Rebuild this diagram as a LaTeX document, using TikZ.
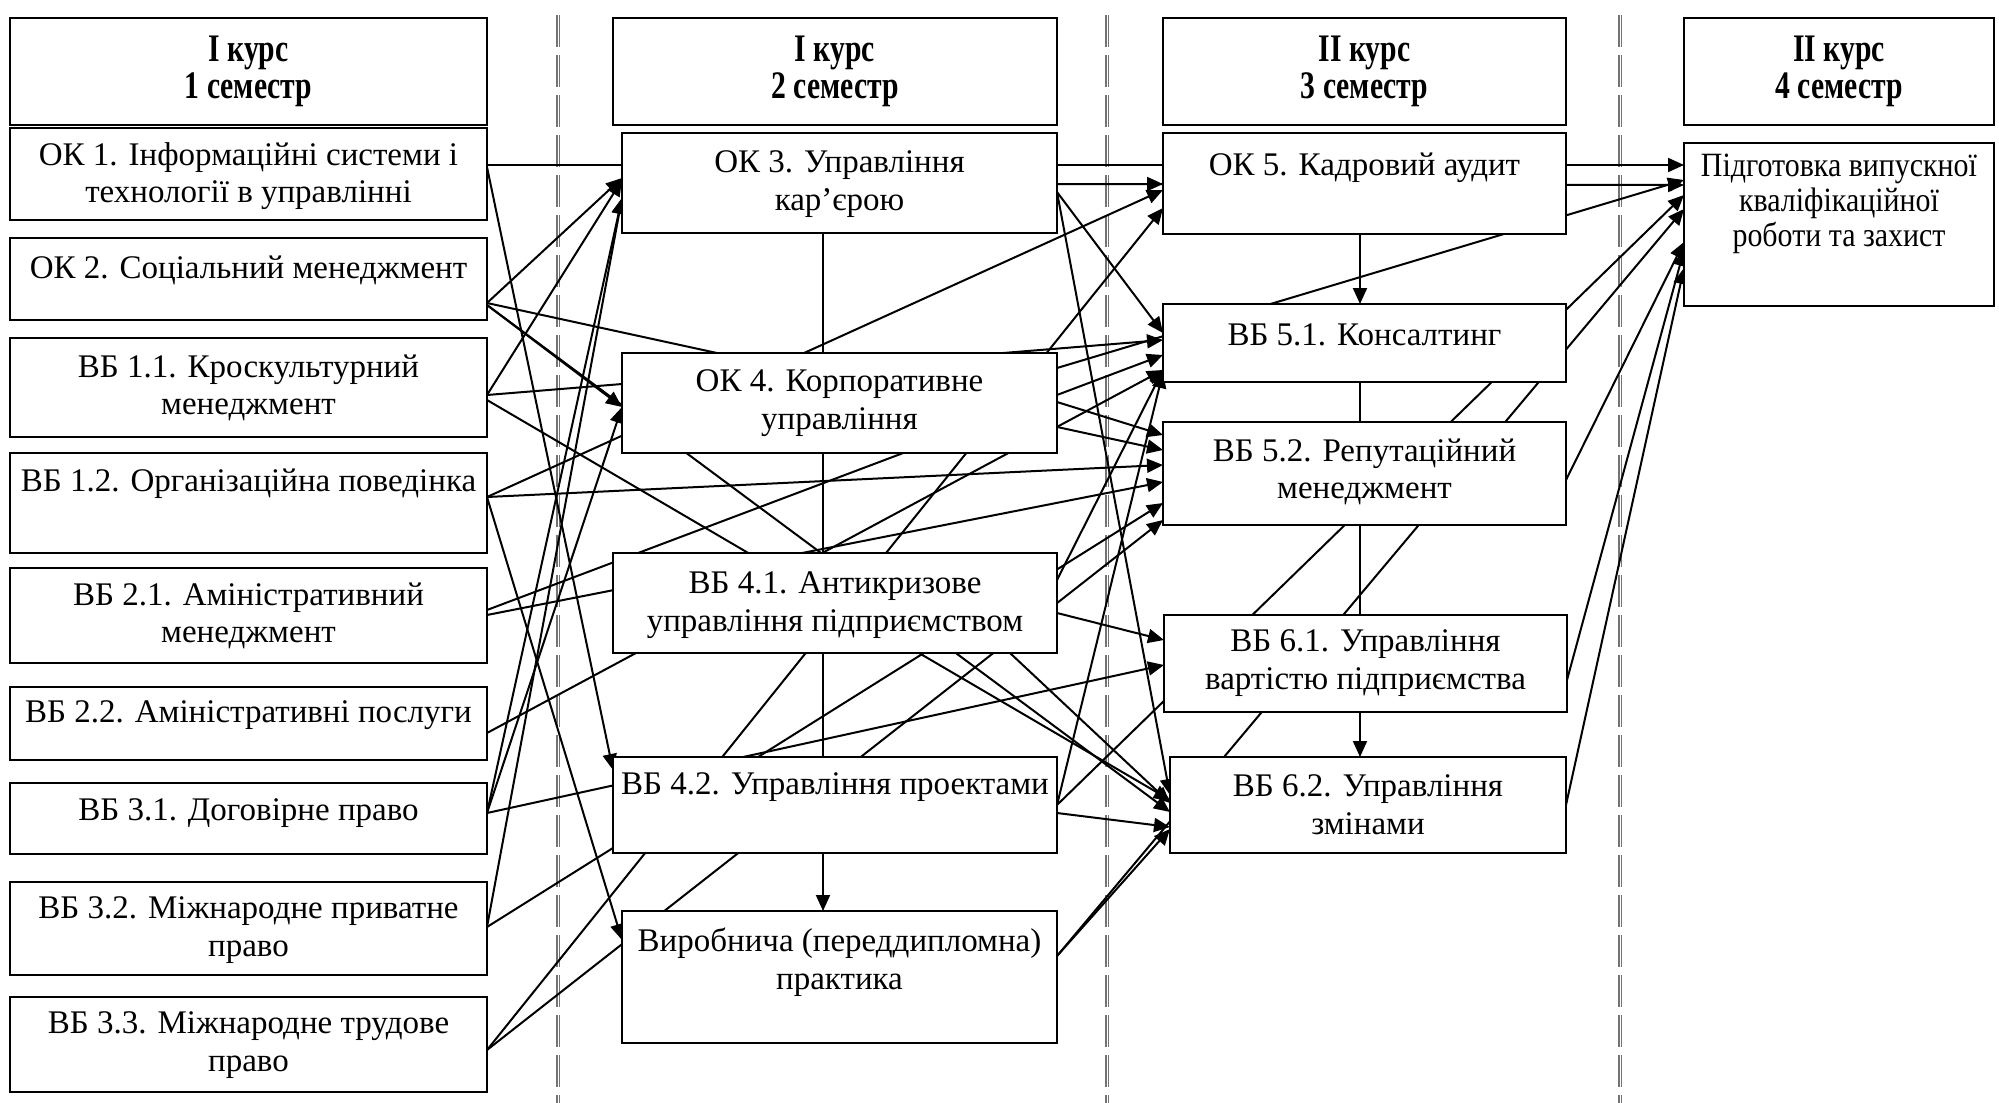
\documentclass[tikz,border=0pt]{standalone}
\usepackage{fontspec}
\setmainfont{Liberation Serif}
\newfontfamily\hdrfont{Liberation Serif}[FakeStretch=0.76]
\newfontfamily\finfont{Liberation Serif}[FakeStretch=0.88]
\usetikzlibrary{arrows.meta,fit}
\pgfdeclarelayer{bg}
\pgfsetlayers{bg,main}
\begin{document}
\begin{tikzpicture}[x=0.5pt,y=-0.5pt,
 box/.style={draw,line width=1.1pt,fill=white,inner sep=0pt,outer sep=0pt},
 txt/.style={align=center,inner sep=0pt,font=\fontsize{16.5}{18.8}\selectfont},
 hdr/.style={align=center,inner sep=0pt,font=\hdrfont\bfseries\fontsize{19.5}{18.5}\selectfont},
 fintxt/.style={align=center,inner sep=0pt,font=\finfont\fontsize{17}{17.5}\selectfont},
 con/.style={line width=1pt},
 arr/.style={con,-{Triangle[length=8pt,width=7pt]}},
 sep/.style={draw=black!55,line width=0.6pt,double=white,double distance=0.4pt,dash pattern=on 16pt off 4pt}]
\useasboundingbox (0,0) rectangle (1999,1103);
% column 1
\node[box,fit={(10,18)(487,125)}] (h1) {};
\node[hdr] (h1t) at (248.5,71) {I курс\\1 семестр};
\node[box,fit={(10,128)(487,220)}] (ok1) {};
\node[txt] (ok1t) at (248.5,176) {ОК 1. Інформаційні системи і\\технології в управлінні};
\node[box,fit={(10,238)(487,320)}] (ok2) {};
\node[txt] (ok2t) at (248.5,270) {ОК 2. Соціальний менеджмент};
\node[box,fit={(10,338)(487,437)}] (vb11) {};
\node[txt] (vb11t) at (248.5,388) {ВБ 1.1. Кроскультурний\\менеджмент};
\node[box,fit={(10,453)(487,553)}] (vb12) {};
\node[txt] (vb12t) at (248.5,484) {ВБ 1.2. Організаційна поведінка};
\node[box,fit={(10,568)(487,663)}] (vb21) {};
\node[txt] (vb21t) at (248.5,616) {ВБ 2.1. Аміністративний\\менеджмент};
\node[box,fit={(10,687)(487,760)}] (vb22) {};
\node[txt] (vb22t) at (248.5,715) {ВБ 2.2. Аміністративні послуги};
\node[box,fit={(10,783)(487,854)}] (vb31) {};
\node[txt] (vb31t) at (248.5,813) {ВБ 3.1. Договірне право};
\node[box,fit={(10,882)(487,975)}] (vb32) {};
\node[txt] (vb32t) at (248.5,930) {ВБ 3.2. Міжнародне приватне\\право};
\node[box,fit={(10,997)(487,1092)}] (vb33) {};
\node[txt] (vb33t) at (248.5,1045) {ВБ 3.3. Міжнародне трудове\\право};
% column 2
\node[box,fit={(613,18)(1057,125)}] (h2) {};
\node[hdr] (h2t) at (835,71) {I курс\\2 семестр};
\node[box,fit={(622,133)(1057,233)}] (ok3) {};
\node[txt] (ok3t) at (839.5,184) {ОК 3. Управління\\кар’єрою};
\node[box,fit={(622,353)(1057,453)}] (ok4) {};
\node[txt] (ok4t) at (839.5,403) {ОК 4. Корпоративне\\управління};
\node[box,fit={(613,553)(1057,653)}] (vb41) {};
\node[txt] (vb41t) at (835,605) {ВБ 4.1. Антикризове\\управління підприємством};
\node[box,fit={(613,757)(1057,853)}] (vb42) {};
\node[txt] (vb42t) at (835,787) {ВБ 4.2. Управління проектами};
\node[box,fit={(622,911)(1057,1043)}] (prac) {};
\node[txt] (pract) at (839.5,962) {Виробнича (переддипломна)\\практика};
% column 3
\node[box,fit={(1163,18)(1566,125)}] (h3) {};
\node[hdr] (h3t) at (1364.5,71) {II курс\\3 семестр};
\node[box,fit={(1163,133)(1566,234)}] (ok5) {};
\node[txt] (ok5t) at (1364.5,168) {ОК 5. Кадровий аудит};
\node[box,fit={(1163,304)(1566,382)}] (vb51) {};
\node[txt] (vb51t) at (1364.5,335) {ВБ 5.1. Консалтинг};
\node[box,fit={(1163,422)(1566,525)}] (vb52) {};
\node[txt] (vb52t) at (1364.5,472) {ВБ 5.2. Репутаційний\\менеджмент};
\node[box,fit={(1164,615)(1567,712)}] (vb61) {};
\node[txt] (vb61t) at (1365.5,663) {ВБ 6.1. Управління\\вартістю підприємства};
\node[box,fit={(1170,757)(1566,853)}] (vb62) {};
\node[txt] (vb62t) at (1368,805) {ВБ 6.2. Управління\\змінами};
% column 4
\node[box,fit={(1684,18)(1994,125)}] (h4) {};
\node[hdr] (h4t) at (1839,71) {II курс\\4 семестр};
\node[box,fit={(1684,143)(1994,306)}] (fin) {};
\node[fintxt] (fint) at (1839,204) {Підготовка випускної\\кваліфікаційної\\роботи та захист};
\begin{pgfonlayer}{bg}
\draw[sep] (558,15) -- (558,1103);
\draw[sep] (1107,15) -- (1107,1103);
\draw[sep] (1620,15) -- (1620,1103);
% vertical chains
\draw[con] (823,0 |- ok3.south) -- (823,0 |- ok4.north);
\draw[con] (823,0 |- ok4.south) -- (823,0 |- vb41.north);
\draw[con] (823,0 |- vb41.south) -- (823,0 |- vb42.north);
\draw[arr] (823,0 |- vb42.south) -- (823,0 |- prac.north);
\draw[arr] (1360,0 |- ok5.south) -- (1360,0 |- vb51.north);
\draw[con] (1360,0 |- vb51.south) -- (1360,0 |- vb52.north);
\draw[con] (1360,0 |- vb52.south) -- (1360,0 |- vb61.north);
\draw[arr] (1360,0 |- vb61.south) -- (1360,0 |- vb62.north);
% column 1 sources
\draw[arr] (ok1.east |- 0,165) -- (fin.west |- 0,165);
\draw[arr] (ok1.east |- 0,167) -- (vb42.west |- 0,770);
\draw[arr] (ok2.east |- 0,303) -- (ok3.west |- 0,178);
\draw[arr] (ok2.east |- 0,305) -- (ok4.west |- 0,407);
\draw[arr] (ok2.east |- 0,305) -- (vb62.west |- 0,812);
\draw[arr] (ok2.east |- 0,303) -- (vb52.west |- 0,450);
\draw[arr] (vb11.east |- 0,395) -- (ok3.west |- 0,180);
\draw[arr] (vb11.east |- 0,395) -- (vb51.west |- 0,340);
\draw[arr] (vb11.east |- 0,400) -- (vb62.west |- 0,800);
\draw[arr] (vb12.east |- 0,497) -- (ok5.west |- 0,190);
\draw[arr] (vb12.east |- 0,497) -- (vb52.west |- 0,465);
\draw[arr] (vb12.east |- 0,497) -- (prac.west |- 0,940);
\draw[arr] (vb21.east |- 0,610) -- (vb51.west |- 0,355);
\draw[arr] (vb21.east |- 0,615) -- (vb52.west |- 0,482);
\draw[arr] (vb22.east |- 0,733) -- (vb51.west |- 0,370);
\draw[arr] (vb31.east |- 0,813) -- (vb61.west |- 0,665);
\draw[arr] (vb31.east |- 0,813) -- (ok4.west |- 0,407);
\draw[arr] (vb31.east |- 0,813) -- (ok3.west |- 0,198);
\draw[arr] (vb32.east |- 0,927) -- (ok3.west |- 0,198);
\draw[arr] (vb32.east |- 0,927) -- (vb52.west |- 0,503);
\draw[arr] (vb33.east |- 0,1050) -- (ok5.west |- 0,208);
\draw[arr] (vb33.east |- 0,1050) -- (vb52.west |- 0,520);
% column 2 sources
\draw[arr] (ok3.east |- 0,184) -- (fin.west |- 0,185);
\draw[arr] (ok3.east |- 0,184) -- (ok5.west |- 0,184);
\draw[arr] (ok3.east |- 0,192) -- (vb51.west |- 0,333);
\draw[arr] (ok3.east |- 0,192) -- (vb62.west |- 0,795);
\draw[arr] (ok4.east |- 0,368) -- (fin.west |- 0,180);
\draw[arr] (ok4.east |- 0,402) -- (vb52.west |- 0,435);
\draw[arr] (1010,0 |- vb41.south) -- (vb62.west |- 0,803);
\draw[arr] (vb41.east |- 0,580) -- (vb51.west |- 0,370);
\draw[arr] (vb41.east |- 0,613) -- (vb61.west |- 0,640);
\draw[arr] (vb42.east |- 0,805) -- (vb51.west |- 0,372);
\draw[arr] (vb42.east |- 0,813) -- (vb62.west |- 0,827);
\draw[arr] (vb42.east |- 0,805) -- (fin.west |- 0,195);
\draw[arr] (prac.east |- 0,956) -- (vb62.west |- 0,829);
\draw[arr] (prac.east |- 0,956) -- (fin.west |- 0,209);
% column 3 sources
\draw[arr] (vb52.east |- 0,480) -- (fin.west |- 0,242);
\draw[arr] (vb61.east |- 0,680) -- (fin.west |- 0,250);
\draw[arr] (vb62.east |- 0,805) -- (fin.west |- 0,268);
\end{pgfonlayer}
\end{tikzpicture}
\end{document}
